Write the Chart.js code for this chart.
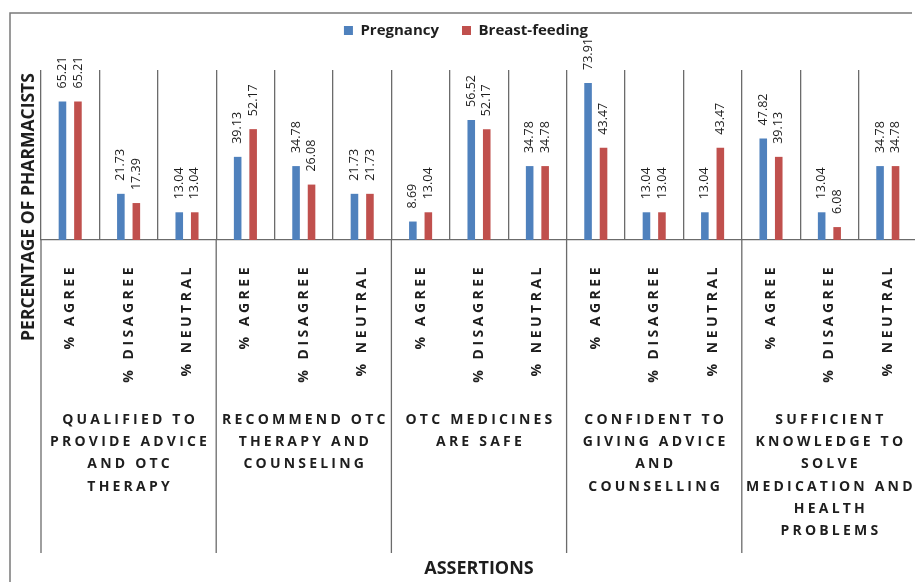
<!DOCTYPE html>
<html lang="en">

<head>
    <meta charset="UTF-8" />
    <title>Assertions</title>
    <script src="https://cdn.jsdelivr.net/npm/chart.js"></script>
    <style>
        html, body {
            margin: 0;
            padding: 0;
            background: #fff;
            overflow: hidden;
        }
    </style>
</head>

<body>
    <canvas id="assertChart" width="930" height="582"></canvas>

    <script>
        // data
        const responses = ['% AGREE', '% DISAGREE', '% NEUTRAL'];
        const assertions = [
            ['QUALIFIED TO', 'PROVIDE ADVICE', 'AND OTC', 'THERAPY'],
            ['RECOMMEND OTC', 'THERAPY AND', 'COUNSELING'],
            ['OTC MEDICINES', 'ARE SAFE'],
            ['CONFIDENT TO', 'GIVING ADVICE', 'AND', 'COUNSELLING'],
            ['SUFFICIENT', 'KNOWLEDGE TO', 'SOLVE', 'MEDICATION AND', 'HEALTH', 'PROBLEMS']
        ];
        const pregnancy = [65.21, 21.73, 13.04, 39.13, 34.78, 21.73, 8.69, 56.52, 34.78, 73.91, 13.04, 13.04, 47.82, 13.04, 34.78];
        const breastFeeding = [65.21, 17.39, 13.04, 52.17, 26.08, 21.73, 13.04, 52.17, 34.78, 43.47, 13.04, 43.47, 39.13, 6.08, 34.78];

        const labels = [];
        assertions.forEach(() => responses.forEach(r => labels.push(r)));

        const lineColor = '#6b6b6b';
        const textColor = '#1e1e1e';
        const font = '"Open Sans", "Liberation Sans", sans-serif';

        // push the plot down below the legend
        const legendSpace = {
            id: 'legendSpace',
            beforeInit(chart) {
                const fit = chart.legend.fit;
                chart.legend.fit = function () {
                    fit.bind(chart.legend)();
                    this.height = 70;
                };
            }
        };

        const decorations = {
            id: 'decorations',
            afterDraw(chart) {
                const ctx = chart.ctx;
                const x = chart.scales.x;
                const area = chart.chartArea;
                const step = x.getPixelForValue(1) - x.getPixelForValue(0);

                ctx.save();

                // outer frame
                ctx.strokeStyle = '#7a7a7a';
                ctx.lineWidth = 1.5;
                ctx.beginPath();
                ctx.moveTo(10, 600);
                ctx.lineTo(10, 13);
                ctx.lineTo(912, 13);
                ctx.stroke();

                // group separators under the axis
                ctx.strokeStyle = lineColor;
                ctx.lineWidth = 1.3;
                for (let g = 0; g <= assertions.length; g++) {
                    const px = x.getPixelForValue(g * 3) - step / 2;
                    ctx.beginPath();
                    ctx.moveTo(px, area.bottom);
                    ctx.lineTo(px, 553);
                    ctx.stroke();
                }

                // value labels above bars
                ctx.fillStyle = textColor;
                ctx.font = '12.5px ' + font;
                ctx.textAlign = 'left';
                ctx.textBaseline = 'middle';
                chart.data.datasets.forEach((ds, di) => {
                    chart.getDatasetMeta(di).data.forEach((bar, i) => {
                        ctx.save();
                        ctx.translate(bar.x, bar.y - 13);
                        ctx.rotate(-Math.PI / 2);
                        ctx.fillText(ds.data[i].toFixed(2), 0, 0);
                        ctx.restore();
                    });
                });

                // rotated response labels
                ctx.font = 'bold 14px ' + font;
                ctx.letterSpacing = '3.5px';
                ctx.textAlign = 'right';
                labels.forEach((lab, i) => {
                    ctx.save();
                    ctx.translate(x.getPixelForValue(i), area.bottom + 24);
                    ctx.rotate(-Math.PI / 2);
                    ctx.fillText(lab, 0, 0);
                    ctx.restore();
                });

                // assertion group labels
                ctx.letterSpacing = '3.2px';
                ctx.textAlign = 'center';
                assertions.forEach((lines, g) => {
                    const cx = x.getPixelForValue(g * 3 + 1) + 1.5;
                    lines.forEach((line, j) => {
                        ctx.fillText(line, cx, 420 + j * 22.2);
                    });
                });

                // y axis title
                ctx.letterSpacing = '0px';
                ctx.font = 'bold 17.5px ' + font;
                ctx.save();
                ctx.translate(29, 207);
                ctx.rotate(-Math.PI / 2);
                ctx.fillText('PERCENTAGE OF PHARMACISTS', 0, 0);
                ctx.restore();

                ctx.restore();
            }
        };

        const ctx = document.getElementById('assertChart').getContext('2d');
        new Chart(ctx, {
            type: 'bar',
            data: {
                labels: labels,
                datasets: [{
                    label: 'Pregnancy',
                    data: pregnancy,
                    backgroundColor: '#4F81BD'
                }, {
                    label: 'Breast-feeding',
                    data: breastFeeding,
                    backgroundColor: '#C0504D'
                }]
            },
            options: {
                responsive: false,
                animation: false,
                categoryPercentage: 0.53,
                barPercentage: 0.49,
                layout: { padding: { left: 15, right: 13, top: 0, bottom: 0 } },
                plugins: {
                    legend: {
                        display: true,
                        labels: {
                            boxWidth: 9,
                            boxHeight: 9,
                            padding: 23,
                            color: textColor,
                            font: { family: font, size: 15, weight: 'bold' }
                        }
                    },
                    tooltip: { enabled: false }
                },
                scales: {
                    x: {
                        offset: true,
                        grid: { display: true, offset: true, drawTicks: false, color: lineColor, lineWidth: 1.3 },
                        border: { display: true, color: lineColor, width: 1.3 },
                        ticks: { display: false },
                        title: {
                            display: true,
                            text: 'ASSERTIONS',
                            color: textColor,
                            font: { family: font, size: 18, weight: 'bold', lineHeight: 1.2 },
                            padding: { top: 318.4, bottom: 2 }
                        }
                    },
                    y: {
                        display: true,
                        min: 0,
                        max: 80,
                        afterFit(scale) { scale.width = 26; },
                        grid: { display: false },
                        border: { display: false },
                        ticks: { display: false }
                    }
                }
            },
            plugins: [legendSpace, decorations]
        });
    </script>
</body>

</html>
